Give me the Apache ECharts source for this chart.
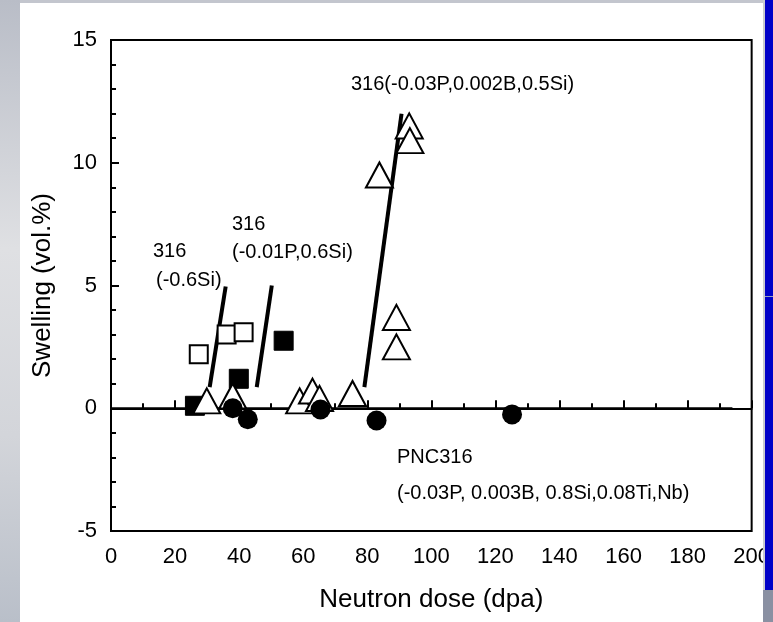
<!DOCTYPE html>
<html>
<head>
<meta charset="utf-8">
<script src="https://cdn.jsdelivr.net/npm/echarts@6/dist/echarts.min.js"></script>
<style>
html,body{margin:0;padding:0;background:#fff;}
#chart{width:773px;height:622px;}
</style>
</head>
<body>
<div id="chart"></div>
<script>
// ---- data ----
const xTickValues = [0, 20, 40, 60, 80, 100, 120, 140, 160, 180, 200];
const yTickValues = [-5, 0, 5, 10, 15];

const openSquares   = [[27.4, 2.2], [36.1, 3.0], [41.4, 3.1]];
const filledSquares = [[26.2, 0.1], [39.9, 1.2], [53.9, 2.75]];
const openTriangles = [[29.9, 0.3], [38.0, 0.5], [58.9, 0.3], [62.9, 0.7], [65.1, 0.4],
                       [75.4, 0.6], [83.8, 9.5], [89.1, 3.7], [89.1, 2.5], [93.1, 11.5], [93.3, 10.9]];
const filledCircles = [[38.0, 0.0], [42.7, -0.45], [65.4, -0.05], [82.9, -0.5], [125.2, -0.25]];

const baseline   = [[0, 0], [194, 0]];
const trend316Si = [[30.8, 0.86], [35.8, 4.96]];
const trend316P  = [[45.5, 0.86], [50.2, 5.0]];
const trend316B  = [[79.1, 0.86], [90.7, 12.0]];

const xName = 'Neutron dose (dpa)';
const yName = 'Swelling (vol.%)';

// ---- chart ----
const chart = echarts.init(document.getElementById('chart'));
const FONT = 'Liberation Sans, Arial, Helvetica, sans-serif';
const annot = (x, y, text) => ({
  type: 'text', left: x, top: y, z: 50,
  style: { text: text, font: '20px ' + FONT, fill: '#000' }
});

const option = {
  backgroundColor: 'transparent',
  animation: false,
  grid: { left: 111, right: 20, top: 40, bottom: 91, show: true, borderColor: '#000', borderWidth: 2, backgroundColor: 'transparent' },
  xAxis: {
    type: 'value', min: 0, max: 200, interval: 20,
    name: xName, nameLocation: 'middle', nameGap: 56,
    nameTextStyle: { fontFamily: FONT, fontSize: 26, color: '#000' },
    axisLine: { lineStyle: { color: '#000', width: 2 } },
    axisTick: { inside: true, length: 8, lineStyle: { color: '#000', width: 2 } },
    minorTick: { show: true, splitNumber: 2, length: 5, lineStyle: { color: '#000', width: 2 } },
    splitLine: { show: false },
    axisLabel: { fontFamily: FONT, fontSize: 22, color: '#000', margin: 15,
      formatter: v => xTickValues.includes(v) ? String(v) : '' }
  },
  yAxis: {
    type: 'value', min: -5, max: 15, interval: 5,
    name: yName, nameLocation: 'middle', nameGap: 55, nameRotate: 90,
    nameTextStyle: { fontFamily: FONT, fontSize: 26, color: '#000' },
    axisLine: { lineStyle: { color: '#000', width: 2 } },
    axisTick: { inside: true, length: 8, lineStyle: { color: '#000', width: 2 } },
    minorTick: { show: true, splitNumber: 5, length: 5, lineStyle: { color: '#000', width: 2 } },
    splitLine: { show: false },
    axisLabel: { fontFamily: FONT, fontSize: 22, color: '#000', margin: 14, padding: [6, 0, 0, 0],
      formatter: v => yTickValues.includes(v) ? String(v) : '' }
  },
  series: [
    { type: 'line', data: baseline, symbol: 'none', lineStyle: { color: '#000', width: 2 }, z: 2 },
    { type: 'line', data: trend316Si, symbol: 'none', lineStyle: { color: '#000', width: 4 }, z: 3 },
    { type: 'line', data: trend316P, symbol: 'none', lineStyle: { color: '#000', width: 4 }, z: 3 },
    { type: 'line', data: trend316B, symbol: 'none', lineStyle: { color: '#000', width: 4 }, z: 3 },
    { type: 'scatter', data: openSquares, symbol: 'rect', symbolSize: 18,
      itemStyle: { color: '#fff', borderColor: '#000', borderWidth: 2, opacity: 1 }, z: 4 },
    { type: 'scatter', data: filledSquares, symbol: 'rect', symbolSize: 19,
      itemStyle: { color: '#000', borderColor: '#000', borderWidth: 1, opacity: 1 }, z: 5 },
    { type: 'scatter', data: openTriangles, symbol: 'triangle', symbolSize: [27, 25],
      itemStyle: { color: '#fff', borderColor: '#000', borderWidth: 2, opacity: 1 }, z: 6 },
    { type: 'scatter', data: filledCircles, symbol: 'circle', symbolSize: 20,
      itemStyle: { color: '#000', opacity: 1 }, z: 7 }
  ],
  graphic: [
    // slide background frame
    { type: 'rect', left: 0, top: 0, z: 100, shape: { width: 20, height: 622 },
      style: { fill: new echarts.graphic.LinearGradient(0, 0, 0, 1, [
        { offset: 0, color: '#b9bdc7' }, { offset: 0.4, color: '#dfe0e3' },
        { offset: 0.7, color: '#d3d5da' }, { offset: 1, color: '#b9bfc9' }]) } },
    { type: 'rect', left: 20, top: 0, z: 100, shape: { width: 745, height: 3 }, style: { fill: '#c3c6ce' } },
    { type: 'rect', left: 763, top: 0, z: 100, shape: { width: 2, height: 590 }, style: { fill: '#c8cad0' } },
    { type: 'rect', left: 765, top: 0, z: 100, shape: { width: 8, height: 590 }, style: { fill: '#0000c8' } },
    { type: 'rect', left: 765, top: 296, z: 101, shape: { width: 8, height: 1 }, style: { fill: '#9aa0c0' } },
    { type: 'rect', left: 763, top: 590, z: 100, shape: { width: 10, height: 32 }, style: { fill: '#8a90a2' } },
    // annotations
    annot(351, 74, '316(-0.03P,0.002B,0.5Si)'),
    annot(153, 241, '316'),
    annot(156, 270, '(-0.6Si)'),
    annot(232, 214, '316'),
    annot(232, 242, '(-0.01P,0.6Si)'),
    annot(397, 447, 'PNC316'),
    annot(397, 483, '(-0.03P, 0.003B, 0.8Si,0.08Ti,Nb)')
  ]
};
chart.setOption(option);
</script>
</body>
</html>
